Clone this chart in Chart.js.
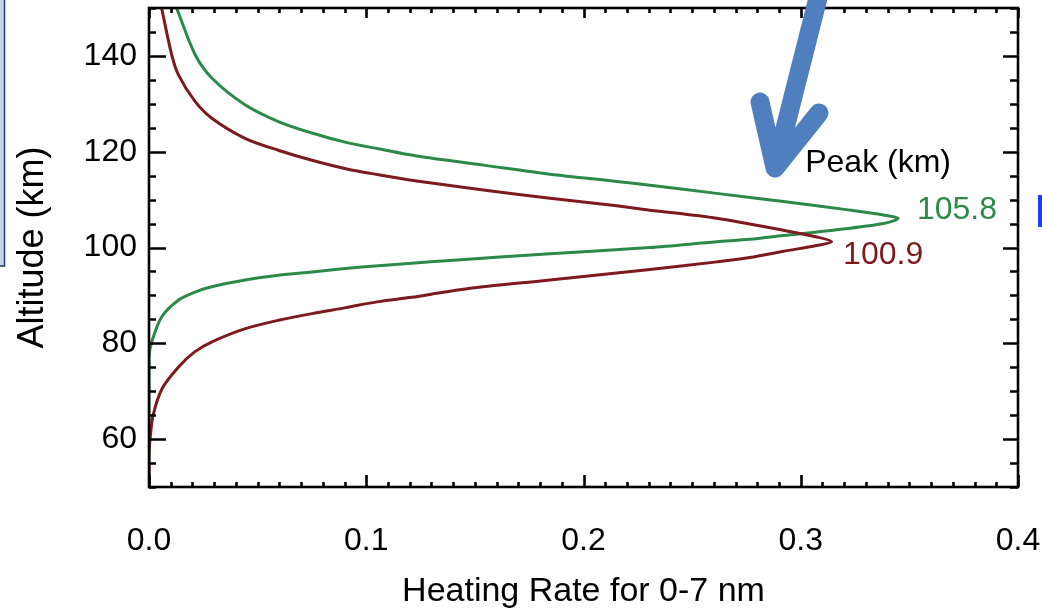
<!DOCTYPE html>
<html>
<head>
<meta charset="utf-8">
<script src="https://cdn.jsdelivr.net/npm/chart.js@4.4.0/dist/chart.umd.min.js"></script>
<style>
  html, body { margin: 0; padding: 0; background: #fff; }
</style>
</head>
<body>
<canvas id="myChart" width="1042" height="609"></canvas>
<script>
// Datos, en el orden del trazo (de abajo hacia arriba)
const redAlt = [50, 57, 60, 64.8, 70.5, 75.0, 78.2, 80.3, 83.0, 84.8, 86.2, 87.4, 88.7, 89.6, 90.7, 91.6, 93.2, 95.4, 97.0, 97.9, 99.2, 100.4, 101.2,
  102.2, 103.6, 106.1, 107.8, 108.7, 110.3, 112.0, 113.9, 115.2, 116.4, 118.2, 120.3, 122.8, 127.0, 130.5, 136.1, 140.3, 150];
const redRate = [0, 0, 0.0005, 0.0018, 0.006, 0.0135, 0.021, 0.029, 0.044, 0.0595, 0.075, 0.09, 0.1056, 0.121, 0.136, 0.150, 0.1846, 0.2306, 0.2613, 0.2766, 0.292, 0.3073, 0.3142,
  0.3073, 0.292, 0.2613, 0.2306, 0.2153, 0.1846, 0.1539, 0.1232, 0.1056, 0.091, 0.075, 0.0595, 0.0442, 0.0289, 0.0212, 0.0135, 0.0104, 0.0058];

const greenAlt = [50, 77, 80.2, 85.5, 89.0, 90.7, 91.8, 93.2, 94.2, 94.9, 95.6, 96.2, 96.7, 97.3, 98.7, 100.0, 101.2, 101.7, 102.5, 103.6, 105.0, 106.1,
  106.8, 107.8, 109.6, 111.3, 113.0, 113.8, 115.3, 117.2, 119.1, 120.6, 122.0, 123.9, 126.3, 129.8, 135.4, 140.3, 150];
const greenRate = [0, 0, 0.0012, 0.0058, 0.0135, 0.0212, 0.0289, 0.0442, 0.0595, 0.075, 0.0902, 0.1056, 0.121, 0.1385, 0.1846, 0.2306, 0.2613, 0.2766, 0.292, 0.315, 0.338, 0.3449,
  0.338, 0.3227, 0.292, 0.2613, 0.2306, 0.2153, 0.1846, 0.1539, 0.1232, 0.1056, 0.0902, 0.075, 0.0595, 0.0442, 0.0289, 0.0212, 0.0127];

const xTicks = [0.0, 0.1, 0.2, 0.3, 0.4];
const yTicks = [60, 80, 100, 120, 140];

// Etiquetas de los picos
const peakTitle = 'Peak (km)';
const peakLabels = ['105.8', '100.9'];

const RED = '#7d1a1e';
const GREEN = '#2b8a48';
const FONT = '"Liberation Sans", Arial, sans-serif';

// Marco y marcas hacia dentro (estilo IDL)
const frameTicks = {
  id: 'frameTicks',
  afterDatasetsDraw(chart) {
    const {ctx, chartArea: a, scales: {x, y}} = chart;
    ctx.save();
    ctx.strokeStyle = '#000';
    ctx.lineWidth = 2.6;
    ctx.strokeRect(a.left, a.top, a.right - a.left, a.bottom - a.top);
    ctx.beginPath();
    for (let v = 50; v <= 150; v += 5) {
      const major = yTicks.includes(v);
      const py = Math.round(y.getPixelForValue(v)) + 0.5;
      ctx.moveTo(a.left, py); ctx.lineTo(a.left + (major ? 17 : 7), py);
      ctx.moveTo(a.right, py); ctx.lineTo(a.right - (major ? 15 : 8), py);
    }
    for (let i = 0; i <= 40; i++) {
      const major = i % 10 === 0;
      const px = Math.round(x.getPixelForValue(i / 100)) + 0.5;
      ctx.moveTo(px, a.bottom); ctx.lineTo(px, a.bottom - (major ? 12 : 5));
      ctx.moveTo(px, a.top); ctx.lineTo(px, a.top + (major ? 10 : 5));
    }
    ctx.stroke();

    // textos de los picos
    ctx.font = '32px ' + FONT;
    ctx.textBaseline = 'middle';
    ctx.textAlign = 'center';
    ctx.fillStyle = '#000';
    ctx.fillText(peakTitle, x.getPixelForValue(0.3356), y.getPixelForValue(117.6));
    ctx.textAlign = 'left';
    ctx.fillStyle = GREEN;
    ctx.fillText(peakLabels[0], x.getPixelForValue(0.3535), y.getPixelForValue(107.75));
    ctx.fillStyle = RED;
    ctx.fillText(peakLabels[1], x.getPixelForValue(0.3195), y.getPixelForValue(98.3));
    ctx.restore();
  },
  afterDraw(chart) {
    // recortes de la diapositiva: flecha azul y bordes
    const ctx = chart.ctx;
    ctx.save();
    ctx.fillStyle = '#c6d6ea';
    ctx.fillRect(0, 0, 4, 266);
    ctx.strokeStyle = '#1f3a78';
    ctx.lineWidth = 1.5;
    ctx.beginPath();
    ctx.moveTo(4.5, 0); ctx.lineTo(4.5, 266); ctx.lineTo(0, 266);
    ctx.stroke();
    ctx.fillStyle = '#1e3cf5';
    ctx.fillRect(1038, 195, 4, 32);
    ctx.strokeStyle = '#4f7fbf';
    ctx.lineWidth = 19;
    ctx.lineCap = 'round';
    ctx.lineJoin = 'round';
    ctx.beginPath();
    ctx.moveTo(820, -10); ctx.lineTo(775, 168);
    ctx.moveTo(760, 102); ctx.lineTo(775, 168); ctx.lineTo(819, 113);
    ctx.stroke();
    ctx.restore();
  }
};

const ctx = document.getElementById('myChart').getContext('2d');
const myChart = new Chart(ctx, {
  type: 'scatter',
  data: {
    datasets: [{
      label: 'red',
      data: redAlt.map((a, i) => ({x: redRate[i], y: a})),
      borderColor: RED,
      borderWidth: 3,
      showLine: true,
      pointRadius: 0,
      tension: 0.3
    }, {
      label: 'green',
      data: greenAlt.map((a, i) => ({x: greenRate[i], y: a})),
      borderColor: GREEN,
      borderWidth: 3,
      showLine: true,
      pointRadius: 0,
      tension: 0.3
    }]
  },
  options: {
    responsive: false,
    animation: false,
    layout: { padding: { top: 8, right: 24, left: 0, bottom: 0 } },
    plugins: { legend: { display: false }, tooltip: { enabled: false } },
    scales: {
      x: {
        type: 'linear',
        min: 0, max: 0.4,
        afterBuildTicks: s => { s.ticks = xTicks.map(v => ({value: v})); },
        afterFit: s => { s.height = 122; s.paddingLeft = 0; s.paddingRight = 0; },
        grid: { display: false, drawTicks: false },
        border: { display: false },
        ticks: {
          color: '#000',
          padding: 35,
          maxRotation: 0,
          autoSkip: false,
          font: { family: FONT, size: 32 },
          callback: v => v.toFixed(1)
        },
        title: {
          display: true,
          text: 'Heating Rate for 0-7 nm',
          color: '#000',
          font: { family: FONT, size: 34, lineHeight: 1 },
          padding: { top: 0, bottom: 0 }
        }
      },
      y: {
        type: 'linear',
        min: 50, max: 150,
        afterBuildTicks: s => { s.ticks = yTicks.map(v => ({value: v})); },
        afterFit: s => { s.width = 149; s.paddingTop = 0; s.paddingBottom = 0; },
        grid: { display: false, drawTicks: false },
        border: { display: false },
        ticks: {
          color: '#000',
          padding: 12,
          autoSkip: false,
          font: { family: FONT, size: 32 }
        },
        title: {
          display: true,
          text: 'Altitude (km)',
          color: '#000',
          font: { family: FONT, size: 36, lineHeight: 1.2 },
          padding: { top: 11, bottom: 0 }
        }
      }
    }
  },
  plugins: [frameTicks]
});
</script>
</body>
</html>
